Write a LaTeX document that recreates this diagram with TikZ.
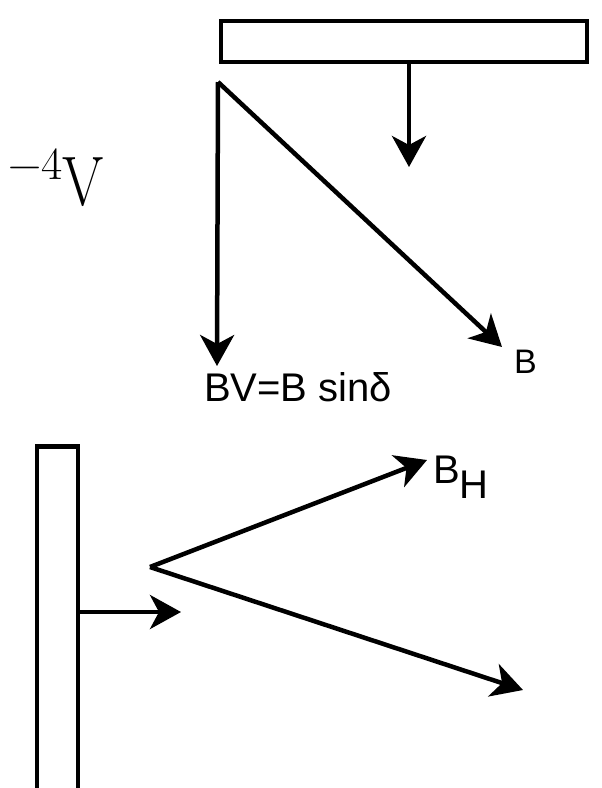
\documentclass[tikz,border=0pt]{standalone}
\usepackage{fontspec}
\newfontfamily\labelfont{Liberation Sans}
\usetikzlibrary{arrows.meta,positioning}

\begin{document}
\begin{tikzpicture}[x=1pt,y=-1pt,
    vec/.style={line width=4.5pt,-{Stealth[length=31pt,width=34pt,inset=9pt]}},
    plate/.style={draw,line width=4.5pt,inner sep=0pt},
    lbl/.style={font=\labelfont,inner sep=0pt}]
  \useasboundingbox (0,0) rectangle (602,788);
  % Upper plate with its field arrow
  \node[plate,minimum width=366pt,minimum height=41pt] (topplate) at (404,41.5) {};
  \coordinate (topdown) at (409,167);
  \draw[vec] (topdown |- topplate.south) -- (topdown);
  % Field B and its vertical part
  \coordinate (vtxA) at (218,82);
  \coordinate (Bvert) at (217,366);
  \coordinate (Btip) at (502,347);
  \draw[vec] (vtxA) -- (Bvert);
  \draw[vec] (vtxA) -- (Btip);
  \node[lbl,font=\labelfont\fontsize{34}{38}\selectfont,anchor=base west] (Blbl) at (514,373) {B};
  \node[lbl,font=\labelfont\fontsize{40}{44}\selectfont,anchor=base west] (BVlbl) at (204,401) {BV=B sinδ};
  % Left over from the line above
  \node[inner sep=0pt,anchor=base east,font=\fontsize{70}{76}\selectfont] (unitV) at (104,205)
    {\raisebox{26pt}{\fontsize{46}{50}\selectfont −4}\scalebox{0.85}[1]{V}};
  % Lower plate with its field arrow
  \node[plate,minimum width=41pt,minimum height=360pt,anchor=north west] (sideplate) at (34.5,444) {};
  \coordinate (sideright) at (181,612);
  \draw[vec] (sideright -| sideplate.east) -- (sideright);
  % Field B and its horizontal part
  \coordinate (vtxB) at (150,567);
  \coordinate (BHtip) at (427,460);
  \coordinate (Blow) at (523,690);
  \draw[vec] (vtxB) -- (BHtip);
  \draw[vec] (vtxB) -- (Blow);
  \node[lbl,font=\labelfont\fontsize{40}{44}\selectfont,anchor=base west] (BHlbl) at (433,483)
    {B\raisebox{-15pt}{H}};
\end{tikzpicture}
\end{document}
